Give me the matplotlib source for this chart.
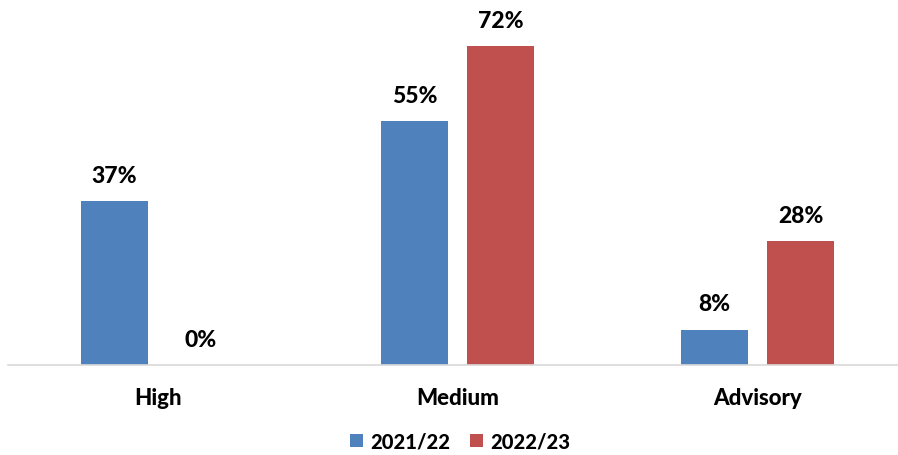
import matplotlib
matplotlib.use("Agg")
import matplotlib.pyplot as plt
import numpy as np

categories = ["High", "Medium", "Advisory"]
series_names = ["2021/22", "2022/23"]
values_2021 = [37, 55, 8]
values_2022 = [0, 72, 28]
colors = ["#4F81BD", "#C0504D"]

plt.rcParams['font.family'] = ['Lato', 'DejaVu Sans']

W, H = 898, 456
fig = plt.figure(figsize=(W/100, H/100), dpi=100)
left_px, right_px = 7.5, 898
base_px, top_px = 366, 11.6
ax = fig.add_axes([left_px/W, (H-base_px)/H, (right_px-left_px)/W, (base_px-top_px)/H])

x = np.arange(len(categories))
bw = 67/300
off = (67+19)/2/300
bars1 = ax.bar(x - off, values_2021, bw, color=colors[0], label=series_names[0])
bars2 = ax.bar(x + off, values_2022, bw, color=colors[1], label=series_names[1])
for bars in (bars1, bars2):
    for b in bars:
        ax.annotate(f"{b.get_height():.0f}%", (b.get_x()+b.get_width()/2, b.get_height()),
                    xytext=(0, 11), textcoords="offset points", ha="center", va="bottom",
                    fontsize=16.5, fontweight="black")

ax.set_xlim(-0.5, -0.5 + (right_px-left_px)/300)
ax.set_ylim(0, 80)
for s in ["top", "right", "left"]:
    ax.spines[s].set_visible(False)
ax.spines["bottom"].set_color("#D9D9D9")
ax.spines["bottom"].set_linewidth(1.2)
ax.set_yticks([])
ax.set_xticks(x)
ax.set_xticklabels(categories, fontsize=16, fontweight="black")
ax.tick_params(axis="x", length=0, pad=16)

fig.legend(handles=[bars1, bars2], labels=series_names, loc="center", bbox_to_anchor=(460/W, 1-442/H),
           ncol=2, frameon=False, prop={"size": 14.5, "weight": "black"}, handlelength=0.65, handleheight=0.65,
           handletextpad=0.35, columnspacing=1.0)

fig.savefig("out.png", dpi=100)
